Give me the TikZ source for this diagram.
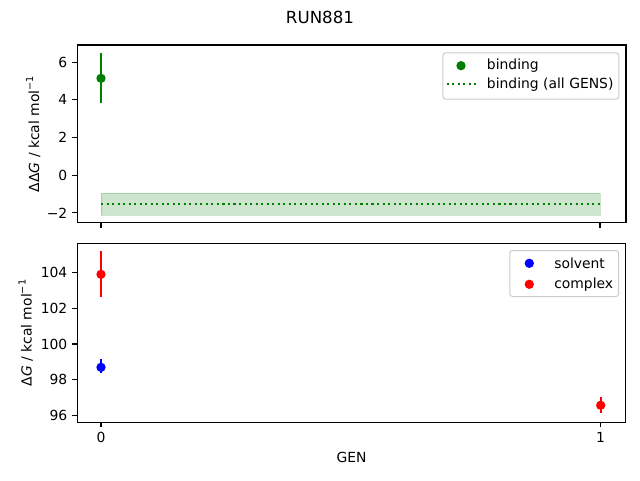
\documentclass[tikz,border=0pt]{standalone}
\usepackage{fontspec}
\setmainfont{DejaVu Sans}
\definecolor{mplgreen}{RGB}{0,128,0}
\definecolor{mplblue}{RGB}{0,0,255}
\definecolor{mplred}{RGB}{255,0,0}
\definecolor{legedge}{RGB}{204,204,204}
\newcommand{\fsz}{\fontsize{10.42pt}{12pt}\selectfont}
\newcommand{\tsz}{\fontsize{12.5pt}{14pt}\selectfont}
\newcommand{\supm}[1]{\raisebox{0.42em}{\fontsize{7.3pt}{8pt}\selectfont #1}}
\begin{document}
\begin{tikzpicture}[x=0.75pt,y=-0.75pt,
  every node/.style={inner sep=0pt,font=\fsz},
  spine/.style={line width=0.83pt,black},
  tickmark/.style={line width=0.83pt,black},
  errbar/.style={line width=1.56pt},
  legframe/.style={draw=legedge,line width=0.75pt,fill=white,rounded corners=2.1pt},
  band/.style={fill=mplgreen,fill opacity=0.2,draw=mplgreen,draw opacity=0.2,line width=0.75pt},
  dotline/.style={mplgreen,line width=1.56pt,dash pattern=on 1.56pt off 2.58pt}]
\useasboundingbox (0,0) rectangle (640,480);
\fill[white] (0,0) rectangle (640,480);

% title
\node[font=\tsz] (title) at (320,17) {RUN881};

% ---------- top axes ----------
\fill[band] (101,193.3) rectangle (600,215.3);
\coordinate (dl0) at (101,203.7);
\coordinate (dl1) at (600,203.7);
\draw[dotline] (dl0) -- (dl1);
\coordinate (ea0) at (101,53.3);
\coordinate (ea1) at (101,103.3);
\draw[errbar,mplgreen] (ea0) -- (ea1);
\fill[mplgreen] (101,78.3) circle[radius=3.5pt];

\draw[spine] (77.3,45) rectangle (626,222.7);
\foreach \y/\lab/\nm in {62.2/6/a, 99.8/4/b, 137.5/2/c, 175.2/0/d, 212.9/{−2}/e}{
  \draw[tickmark] (77.3,\y) -- ++(-4.86,0);
  \node[anchor=east] (ty\nm) at (67.6,\y) {\lab};
}
\foreach \x in {101,600}{
  \draw[tickmark] (\x,222.7) -- ++(0,4.86);
}
\node[rotate=90,anchor=base] (ylabtop) at (39,134) {ΔΔ\textit{G} / kcal mol\supm{−1}};

% legend top
\node[legframe,minimum width=132pt,minimum height=34.8pt,anchor=north west] (leg1) at (442.3,52.3) {};
\fill[mplgreen] (461,65.7) circle[radius=3.5pt];
\node[anchor=west] (lbind) at (486.7,65.7) {binding};
\coordinate (ld0) at (446.7,84.3);
\coordinate (ld1) at (476,84.3);
\draw[dotline] (ld0) -- (ld1);
\node[anchor=west] (lbindall) at (486.7,84.3) {binding (all GENS)};

% ---------- bottom axes ----------
\coordinate (eb0) at (101,251);
\coordinate (eb1) at (101,296.7);
\draw[errbar,mplred] (eb0) -- (eb1);
\fill[mplred] (101,274.3) circle[radius=3.5pt];
\coordinate (ec0) at (101,359);
\coordinate (ec1) at (101,373.3);
\draw[errbar,mplblue] (ec0) -- (ec1);
\fill[mplblue] (101,367.3) circle[radius=3.5pt];
\coordinate (ed0) at (600.7,396.7);
\coordinate (ed1) at (600.7,413.3);
\draw[errbar,mplred] (ed0) -- (ed1);
\fill[mplred] (600.7,405.3) circle[radius=3.5pt];

\draw[spine] (77.3,243.3) rectangle (625.5,422.3);
\foreach \y/\lab in {272.7/104, 308.3/102, 344/100, 379.7/98, 415.3/96}{
  \draw[tickmark] (77.3,\y) -- ++(-4.86,0);
  \node[anchor=east] (tb\lab) at (67.6,\y) {\lab};
}
\foreach \x/\lab in {101/0,600.5/1}{
  \draw[tickmark] (\x,422.3) -- ++(0,4.86);
  \node[anchor=north] (tx\lab) at (\x,432) {\lab};
}
\node (xlab) at (351.6,457) {GEN};
\node[rotate=90,anchor=base] (ylabbot) at (31.5,333) {Δ\textit{G} / kcal mol\supm{−1}};

% legend bottom
\node[legframe,minimum width=81.7pt,minimum height=34.5pt,anchor=north west] (leg2) at (509.3,250) {};
\fill[mplblue] (529.3,263.3) circle[radius=3.5pt];
\node[anchor=west] (lsolv) at (554,263.3) {solvent};
\fill[mplred] (529.3,284.3) circle[radius=3.5pt];
\node[anchor=west] (lcomp) at (554,284.3) {complex};
\end{tikzpicture}
\end{document}
